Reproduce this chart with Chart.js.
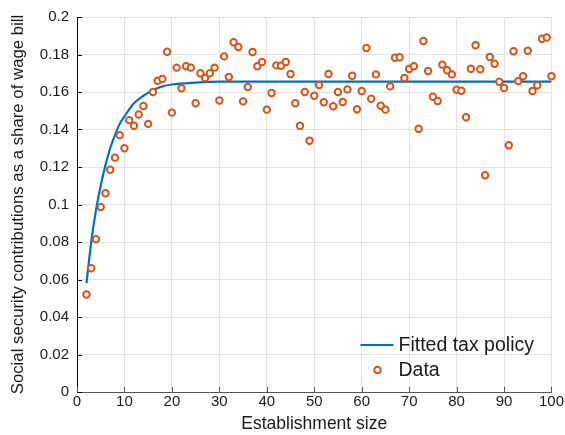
<!DOCTYPE html>
<html>
<head>
<meta charset="utf-8">
<script src="https://cdn.jsdelivr.net/npm/chart.js@4.4.1/dist/chart.umd.min.js"></script>
<style>
  html, body { margin: 0; padding: 0; background: #fff; }
</style>
</head>
<body>
<canvas id="chart" width="565" height="435"></canvas>
<script>
// establishment sizes and observed contribution shares
var sizes = [2, 3, 4, 5, 6, 7, 8, 9, 10, 11, 12, 13, 14, 15, 16, 17, 18, 19, 20,
    21, 22, 23, 24, 25, 26, 27, 28, 29, 30, 31, 32, 33, 34, 35, 36, 37, 38, 39, 40,
    41, 42, 43, 44, 45, 46, 47, 48, 49, 50, 51, 52, 53, 54, 55, 56, 57, 58, 59, 60,
    61, 62, 63, 64, 65, 66, 67, 68, 69, 70, 71, 72, 73, 74, 75, 76, 77, 78, 79, 80,
    81, 82, 83, 84, 85, 86, 87, 88, 89, 90, 91, 92, 93, 94, 95, 96, 97, 98, 99, 100];
var shares = [0.052, 0.066, 0.0815, 0.0987, 0.106, 0.1185, 0.125, 0.137, 0.130,
    0.145, 0.142, 0.148, 0.1525, 0.143, 0.160, 0.166, 0.167, 0.1815, 0.149,
    0.173, 0.162, 0.1737, 0.173, 0.154, 0.170, 0.1675, 0.170, 0.173, 0.1555,
    0.179, 0.168, 0.1865, 0.184, 0.155, 0.1627, 0.1813, 0.1737, 0.176, 0.1506,
    0.1595, 0.1742, 0.174, 0.176, 0.1696, 0.154, 0.142, 0.160, 0.134, 0.158,
    0.1637, 0.1545, 0.1696, 0.1524, 0.160, 0.1547, 0.1614, 0.1687, 0.1508, 0.1605,
    0.1835, 0.1564, 0.1694, 0.1527, 0.1506, 0.163, 0.1783, 0.1785, 0.1675, 0.1723,
    0.1737, 0.1404, 0.1872, 0.1712, 0.1575, 0.1552, 0.1746, 0.1716, 0.1694, 0.1612,
    0.1607, 0.1465, 0.1724, 0.1849, 0.1721, 0.1156, 0.1787, 0.1751, 0.1655, 0.1621,
    0.1316, 0.1817, 0.1659, 0.1684, 0.182, 0.1605, 0.1636, 0.1884, 0.1891, 0.1684];

// fitted tax policy curve
var fitSizes = [2, 3, 4, 5, 6, 7, 8, 9, 10, 12, 14, 16, 18, 20, 25, 30, 40, 50, 60, 70, 80, 90, 100];
var fitShares = [0.058, 0.080, 0.097, 0.110, 0.121, 0.130, 0.137, 0.143, 0.147, 0.154,
    0.158, 0.161, 0.163, 0.164, 0.165, 0.1655, 0.1655, 0.1655, 0.1655, 0.1655,
    0.1655, 0.1655, 0.1655];

var xTicks = [0, 10, 20, 30, 40, 50, 60, 70, 80, 90, 100];
var yTicks = [0, 0.02, 0.04, 0.06, 0.08, 0.1, 0.12, 0.14, 0.16, 0.18, 0.2];

var fontFamily = '"Liberation Sans", Arial, Helvetica, sans-serif';
var blue = '#0072BD';
var orange = '#D95319';
var textColor = '#1a1a1a';

function toPoints(xs, ys) {
    return xs.map(function (x, i) { return { x: x, y: ys[i] }; });
}

// matlab style ticks pointing into the plot
var inwardTicks = {
    id: 'inwardTicks',
    afterDraw: function (chart) {
        var ctx = chart.ctx;
        var area = chart.chartArea;
        var xs = chart.scales.x, ys = chart.scales.y;
        ctx.save();
        ctx.lineWidth = 1;
        ctx.strokeStyle = '#555';
        xs.ticks.forEach(function (t) {
            var px = Math.round(xs.getPixelForValue(t.value)) + 0.5;
            ctx.beginPath();
            ctx.moveTo(px, area.bottom);
            ctx.lineTo(px, area.bottom - 5);
            ctx.stroke();
        });
        ctx.strokeStyle = '#000';
        ys.ticks.forEach(function (t) {
            var py = Math.round(ys.getPixelForValue(t.value)) + 0.5;
            ctx.beginPath();
            ctx.moveTo(area.left, py);
            ctx.lineTo(area.left + 5, py);
            ctx.stroke();
        });
        ctx.restore();
    }
};

// legend without a box, inside the lower right corner
var insideLegend = {
    id: 'insideLegend',
    afterDraw: function (chart) {
        var ctx = chart.ctx;
        var area = chart.chartArea;
        var ds = chart.data.datasets;
        var x0 = area.right - 191;
        var textX = area.right - 153;
        var y1 = area.bottom - 47;
        var y2 = area.bottom - 22;
        ctx.save();
        ctx.font = '19.5px ' + fontFamily;
        ctx.textBaseline = 'middle';
        ctx.fillStyle = textColor;

        ctx.strokeStyle = blue;
        ctx.lineWidth = 2;
        ctx.beginPath();
        ctx.moveTo(x0, y1);
        ctx.lineTo(x0 + 33, y1);
        ctx.stroke();
        ctx.fillText(ds[0].label, textX, y1 + 1);

        ctx.strokeStyle = orange;
        ctx.lineWidth = 2;
        ctx.fillStyle = '#fff';
        ctx.beginPath();
        ctx.arc(x0 + 17, y2, 3.2, 0, Math.PI * 2);
        ctx.fill();
        ctx.stroke();
        ctx.fillStyle = textColor;
        ctx.fillText(ds[1].label, textX, y2 + 1);
        ctx.restore();
    }
};

new Chart(document.getElementById('chart'), {
    type: 'scatter',
    data: {
        datasets: [{
            label: 'Fitted tax policy',
            data: toPoints(fitSizes, fitShares),
            showLine: true,
            borderColor: blue,
            borderWidth: 2.2,
            pointRadius: 0,
            cubicInterpolationMode: 'monotone',
            order: 2
        }, {
            label: 'Data',
            data: toPoints(sizes, shares),
            showLine: false,
            pointRadius: 3.2,
            pointBorderWidth: 2,
            pointBorderColor: orange,
            pointBackgroundColor: '#fff',
            clip: false,
            order: 1
        }]
    },
    options: {
        responsive: false,
        animation: false,
        layout: {
            padding: { top: 16, right: 12, left: 0, bottom: 0 }
        },
        scales: {
            x: {
                type: 'linear',
                min: 0,
                max: 100,
                afterBuildTicks: function (scale) {
                    scale.ticks = xTicks.map(function (v) { return { value: v }; });
                },
                afterFit: function (scale) { scale.height = 43; },
                grid: { color: '#e3e3e3', drawTicks: false },
                border: { display: true, color: '#555', width: 1 },
                ticks: {
                    padding: 1,
                    autoSkip: false,
                    maxRotation: 0,
                    color: textColor,
                    font: { family: fontFamily, size: 15 }
                },
                title: {
                    display: true,
                    text: 'Establishment size',
                    color: textColor,
                    padding: { top: 0, bottom: 0 },
                    font: { family: fontFamily, size: 17.5 }
                }
            },
            y: {
                type: 'linear',
                min: 0,
                max: 0.2,
                afterBuildTicks: function (scale) {
                    scale.ticks = yTicks.map(function (v) { return { value: v }; });
                },
                afterFit: function (scale) { scale.width = 77; },
                grid: { color: '#e3e3e3', drawTicks: false },
                border: { display: true, color: '#000', width: 1 },
                ticks: {
                    padding: 8,
                    autoSkip: false,
                    color: textColor,
                    font: { family: fontFamily, size: 15 },
                    callback: function (value) { return String(+value.toFixed(2)); }
                },
                title: {
                    display: true,
                    text: 'Social security contributions as a share of wage bill',
                    color: textColor,
                    padding: { top: 8, bottom: 0 },
                    font: { family: fontFamily, size: 16.8 }
                }
            }
        },
        plugins: {
            legend: { display: false },
            tooltip: { enabled: false }
        }
    },
    plugins: [inwardTicks, insideLegend]
});
</script>
</body>
</html>
